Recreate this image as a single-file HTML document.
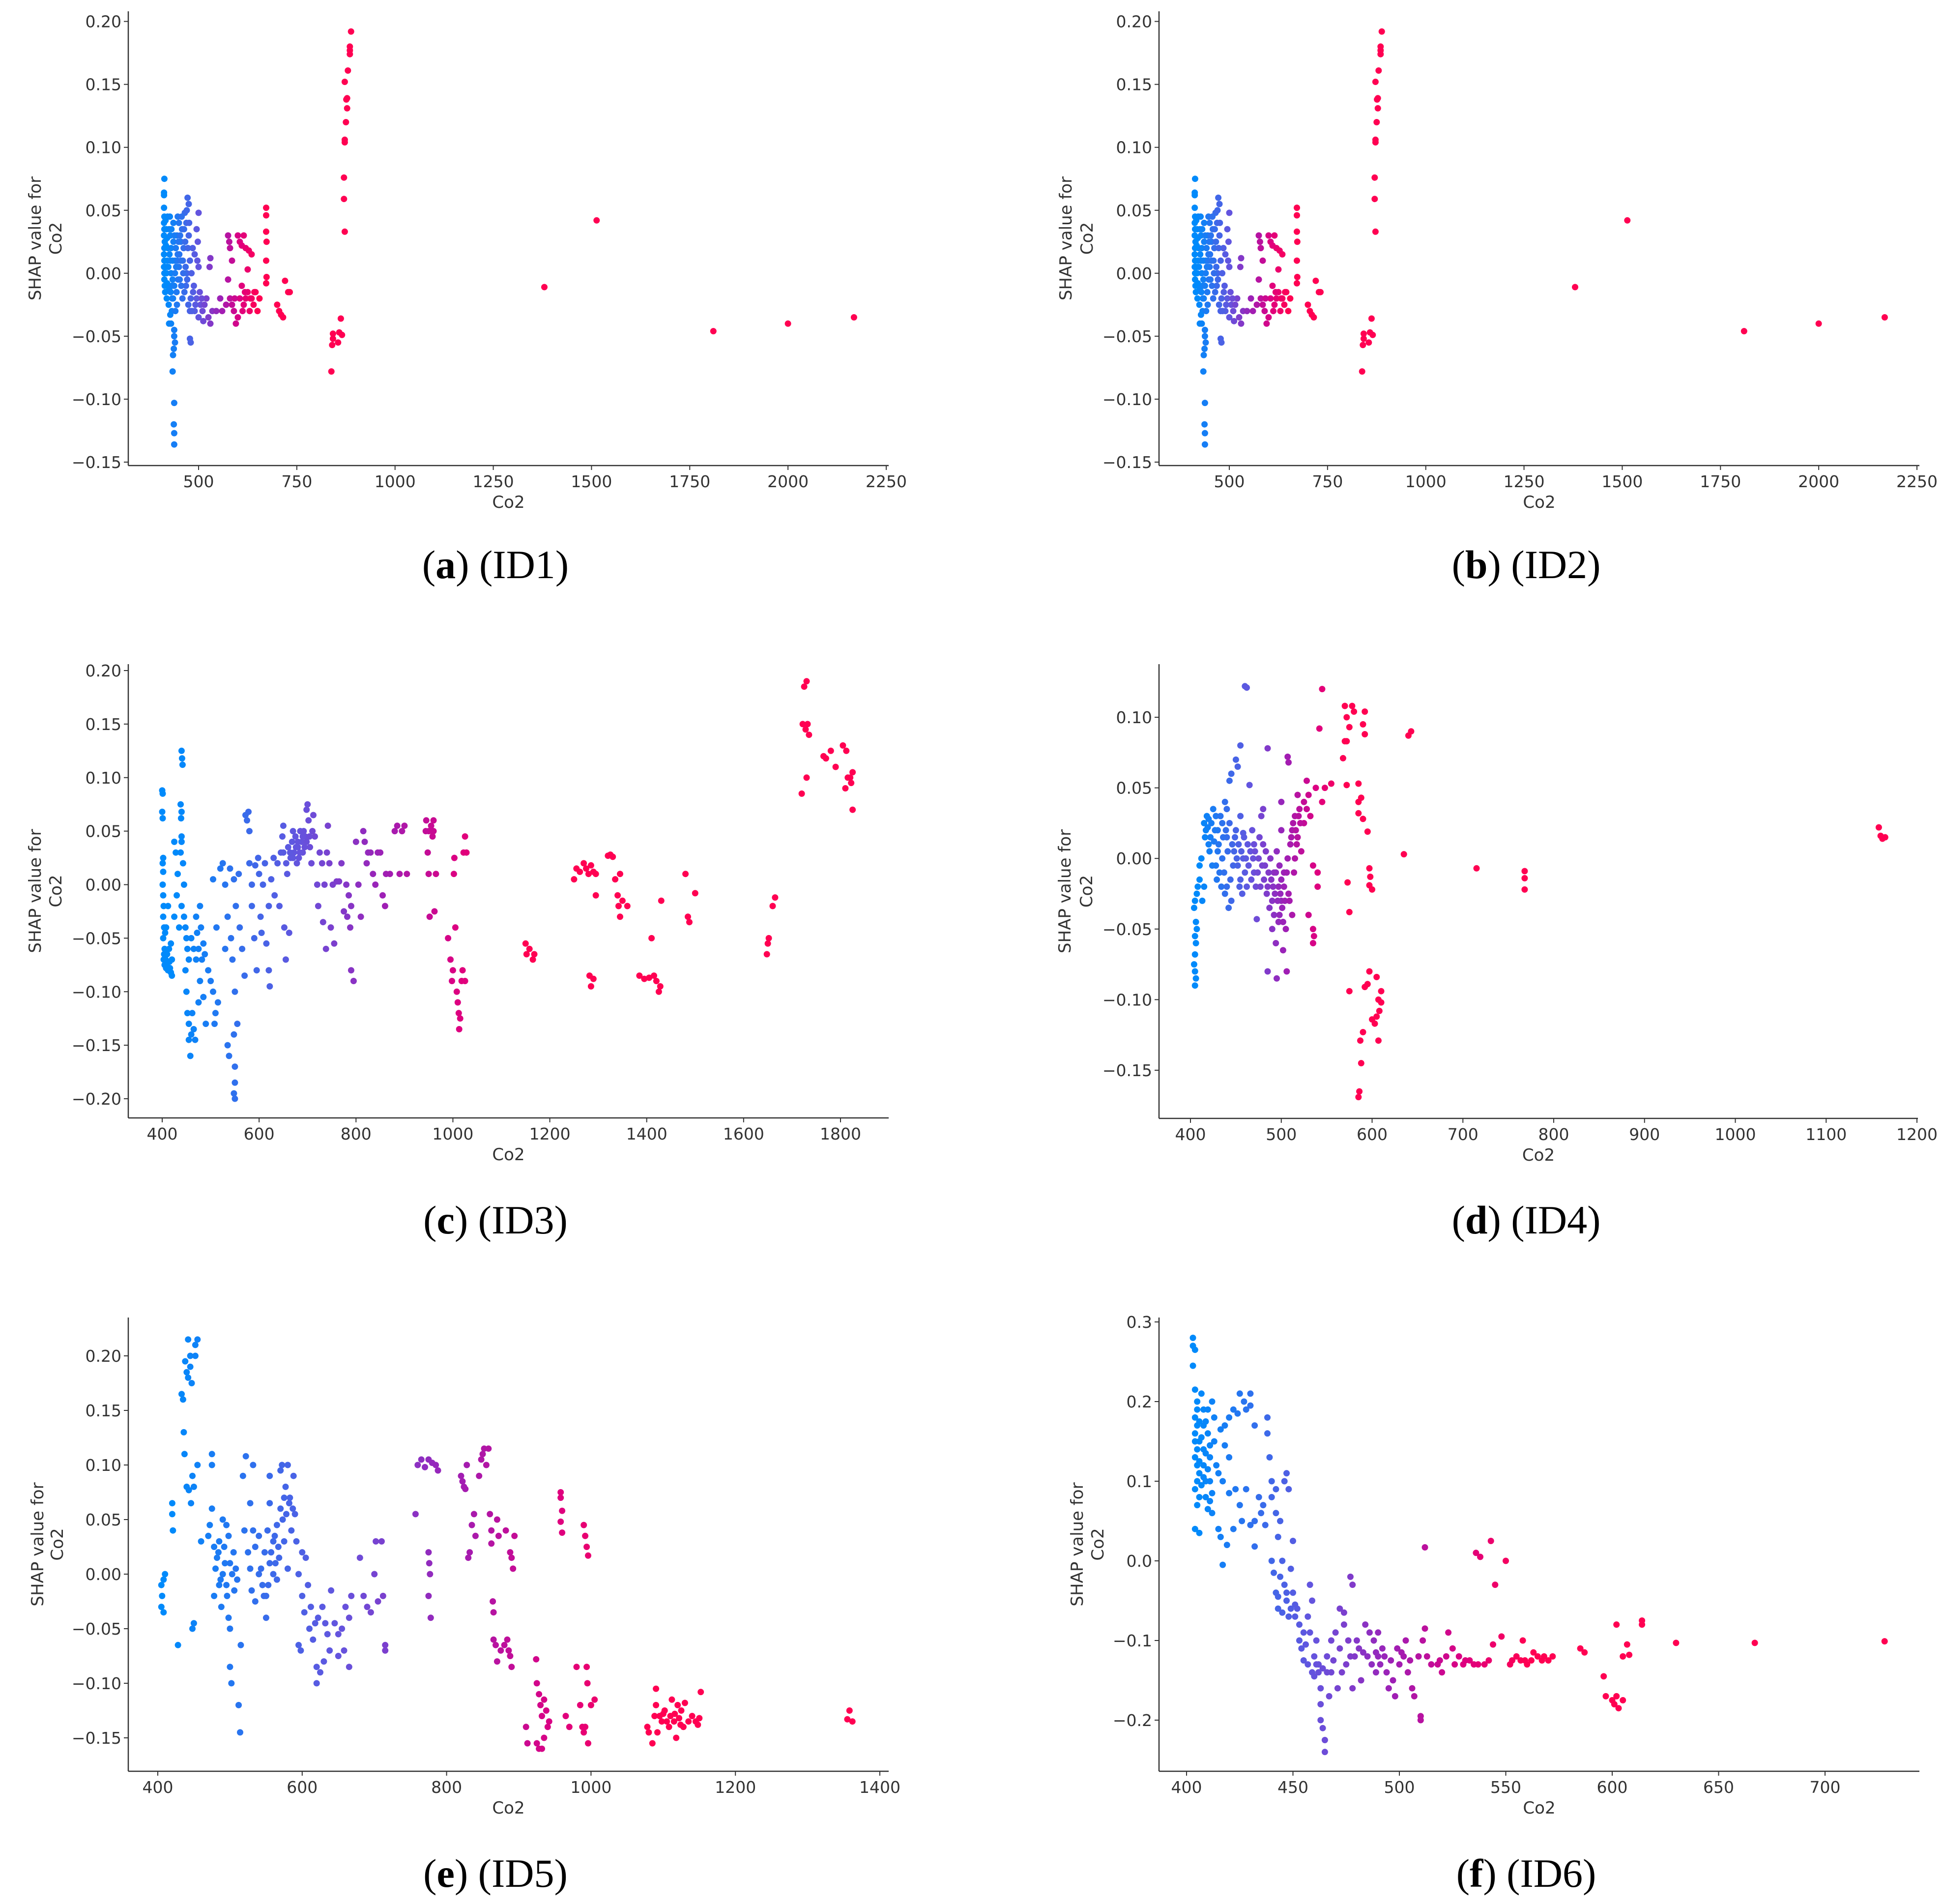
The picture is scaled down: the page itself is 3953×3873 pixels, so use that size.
<!DOCTYPE html>
<html><head><meta charset="utf-8">
<style>
html,body{margin:0;padding:0;background:#fff;}
svg{display:block;}
.tick{font-family:"DejaVu Sans","Liberation Sans",sans-serif;font-size:33px;fill:#333;}
.lab{font-family:"DejaVu Sans","Liberation Sans",sans-serif;font-size:34px;fill:#333;}
.cap{font-family:"Liberation Serif",serif;font-size:82px;fill:#000;}
</style></head>
<body>
<svg id="fig" width="3953" height="3873" viewBox="0 0 3953 3873" xmlns="http://www.w3.org/2000/svg"></svg>
<script>
// ---------- DATA (Co2 value, SHAP value) ----------
const id1Points = [[413,0.075],[412,0.064],[412,0.062],[412,0.052],[413,0.045],[412,0.04],[413,0.035],[412,0.03],[414,0.025],[413,0.02],[412,0.015],[413,0.01],[412,0.005],[413,0],[413,-0.005],[414,-0.01],[415,-0.015],[418,0.035],[420,0.028],[422,0.02],[420,0.01],[418,0],[420,-0.008],[425,-0.012],[425,0.035],[428,0.03],[430,0.02],[428,0.01],[430,0.0],[432,-0.01],[433,-0.02],[432,-0.03],[428,-0.033],[425,-0.04],[430,-0.04],[438,-0.045],[438,-0.05],[440,-0.055],[437,-0.06],[435,-0.065],[434,-0.078],[438,-0.103],[437,-0.12],[438,-0.127],[438,-0.136],[435,-0.02],[438,-0.01],[440,0],[440,0.01],[442,0.02],[445,0.03],[447,0.045],[450,0.04],[447,0.015],[450,0.005],[452,-0.005],[445,-0.025],[455,0.025],[458,0.035],[460,0.01],[462,0.02],[465,0.048],[470,0.05],[472,0.06],[475,0.055],[470,0.0],[468,-0.01],[475,0.03],[478,0.01],[480,-0.02],[482,0.0],[485,0.02],[478,-0.052],[480,-0.055],[478,-0.03],[488,-0.01],[490,0.015],[495,0.035],[500,0.048],[498,0.025],[500,0.005],[495,-0.02],[490,-0.03],[500,-0.035],[505,-0.025],[510,-0.03],[512,-0.038],[520,-0.02],[525,-0.035],[530,-0.04],[530,0.012],[528,0.005],[535,-0.03],[545,-0.03],[555,-0.02],[560,-0.03],[570,-0.025],[575,0.03],[578,0.025],[580,0.02],[585,0.01],[575,-0.005],[580,-0.02],[590,-0.03],[595,-0.04],[600,-0.035],[600,0.03],[605,0.025],[610,0.022],[615,0.03],[620,0.02],[628,0.018],[635,0.015],[605,-0.02],[610,-0.01],[615,-0.025],[620,-0.02],[625,-0.015],[630,-0.03],[635,-0.02],[640,-0.025],[645,-0.015],[650,-0.03],[655,-0.02],[625,0.003],[672,0.052],[672,0.046],[672,0.033],[673,0.025],[672,0.01],[673,-0.003],[672,-0.008],[700,-0.025],[705,-0.03],[710,-0.033],[715,-0.035],[720,-0.006],[728,-0.015],[732,-0.015],[838,-0.078],[840,-0.057],[842,-0.052],[842,-0.048],[855,-0.055],[858,-0.047],[862,-0.036],[865,-0.049],[872,0.033],[870,0.059],[870,0.076],[872,0.104],[872,0.106],[875,0.12],[878,0.131],[876,0.138],[878,0.139],[872,0.152],[880,0.161],[885,0.174],[885,0.177],[885,0.18],[888,0.192],[1380,-0.011],[1513,0.042],[1810,-0.046],[2000,-0.04],[2168,-0.035],
[416,0.042],[417,0.022],[416,0.005],[419,-0.02],[421,0.045],[423,0.005],[424,-0.025],[426,0.015],[427,0.045],[429,-0.015],[431,0.035],[434,0.01],[434,-0.005],[436,0.025],[436,0.04],[439,0.03],[441,-0.03],[443,0.005],[444,-0.015],[446,0.01],[448,-0.005],[449,0.025],[451,0.015],[453,0.03],[455,0.01],[456,-0.01],[457,0.045],[459,-0.02],[461,0.0],[463,0.035],[464,-0.015],[466,0.025],[467,0.005],[469,0.04],[471,-0.005],[473,0.02],[474,-0.025],[476,0.04],[483,-0.03],[486,-0.015],[492,-0.025],[497,0.01],[503,-0.015],[508,-0.02],[515,-0.025],[585,-0.025],[592,-0.02],[612,-0.03],[618,-0.015],[632,-0.02],[642,-0.015]];
const id2Points = id1Points.slice();
const id3Points = [[400,0.088],[401,0.085],[400,0.068],[401,0.062],[402,0.025],[401,0.02],[402,0.012],[401,0.0],[402,-0.01],[403,-0.02],[402,-0.03],[404,-0.04],[402,-0.05],[405,-0.06],[403,-0.07],[405,-0.075],[408,-0.078],[410,-0.065],[412,-0.08],[415,-0.072],[418,-0.082],[420,-0.07],[408,-0.04],[412,-0.02],[418,-0.055],[420,-0.085],[425,0.04],[428,0.03],[425,-0.03],[430,-0.01],[432,0.01],[435,-0.04],[440,0.125],[441,0.118],[442,0.112],[438,0.075],[440,0.068],[439,0.062],[440,0.045],[438,0.03],[440,0.04],[443,0.02],[445,0.0],[440,-0.02],[445,-0.03],[448,-0.04],[450,-0.05],[452,-0.06],[455,-0.07],[448,-0.08],[450,-0.1],[452,-0.12],[455,-0.13],[455,-0.145],[458,-0.16],[460,-0.14],[462,-0.12],[465,-0.135],[468,-0.145],[470,-0.03],[472,-0.045],[475,-0.06],[478,-0.02],[480,-0.04],[482,-0.07],[478,-0.09],[475,-0.11],[485,-0.105],[490,-0.13],[485,-0.055],[488,-0.065],[495,-0.08],[500,-0.09],[505,-0.1],[510,-0.12],[508,-0.13],[505,0.005],[512,-0.04],[515,-0.11],[520,0.015],[525,0.02],[530,-0.06],[530,0.0],[535,-0.03],[535,-0.15],[538,-0.16],[540,0.015],[542,-0.05],[545,-0.07],[548,0.005],[550,-0.1],[548,-0.14],[550,-0.17],[550,-0.185],[548,-0.195],[550,-0.2],[555,-0.13],[552,-0.02],[558,0.01],[560,-0.04],[565,-0.06],[570,-0.085],[572,0.065],[575,0.06],[578,0.068],[580,0.05],[580,0.02],[585,-0.02],[585,0.0],[590,-0.05],[595,-0.08],[592,0.018],[598,0.025],[600,0.01],[603,-0.03],[605,-0.045],[608,0.0],[612,0.02],[615,-0.055],[620,-0.08],[622,-0.095],[620,-0.02],[625,0.005],[630,0.025],[632,-0.01],[638,0.02],[642,-0.02],[645,0.03],[648,0.045],[650,0.055],[652,-0.04],[655,-0.07],[658,0.01],[660,0.035],[662,-0.045],[665,0.025],[668,0.04],[670,0.05],[672,0.03],[675,0.045],[678,0.02],[680,0.035],[685,0.05],[688,0.04],[690,0.03],[692,0.05],[695,0.045],[698,0.07],[700,0.075],[702,0.06],[705,0.035],[708,0.02],[710,0.05],[712,0.065],[715,0.045],[720,0.0],[722,-0.02],[725,0.03],[730,0.02],[732,-0.035],[735,0.0],[738,-0.06],[740,0.03],[742,0.055],[745,0.02],[748,-0.04],[752,0.0],[755,-0.055],[760,0.003],[765,0.003],[770,0.02],[775,-0.025],[780,0.0],[782,-0.03],[785,-0.01],[788,-0.04],[790,-0.08],[795,-0.09],[790,-0.02],[800,0.04],[805,0.0],[810,-0.03],[815,0.05],[818,0.04],[822,0.02],[825,0.03],[830,0.03],[835,0.01],[840,0.0],[845,0.03],[850,0.03],[855,-0.01],[860,-0.02],[862,0.01],[870,0.01],[880,0.05],[885,0.055],[890,0.01],[895,0.05],[900,0.055],[905,0.01],[945,0.06],[948,0.03],[950,0.01],[950,0.05],[955,0.055],[958,0.045],[960,0.05],[962,-0.025],[952,-0.03],[960,0.06],[965,0.01],[990,-0.05],[995,-0.07],[998,-0.09],[1000,-0.08],[1002,0.01],[1003,0.025],[1005,-0.04],[1008,-0.1],[1010,-0.11],[1012,-0.12],[1013,-0.135],[1015,-0.125],[1018,-0.09],[1020,-0.08],[1022,0.03],[1025,0.045],[1028,0.03],[1025,-0.09],[1150,-0.055],[1152,-0.065],[1158,-0.06],[1165,-0.07],[1168,-0.065],[1250,0.005],[1255,0.015],[1262,0.012],[1270,0.02],[1275,0.015],[1280,0.01],[1285,0.018],[1290,0.012],[1295,0.01],[1282,-0.085],[1285,-0.095],[1290,-0.088],[1295,-0.01],[1320,0.027],[1325,0.028],[1330,0.026],[1335,0.005],[1340,-0.01],[1342,-0.02],[1345,-0.03],[1345,0.01],[1350,-0.015],[1360,-0.02],[1385,-0.085],[1395,-0.088],[1405,-0.087],[1410,-0.05],[1415,-0.085],[1420,-0.09],[1425,-0.1],[1428,-0.095],[1430,-0.015],[1480,0.01],[1485,-0.03],[1488,-0.035],[1500,-0.008],[1648,-0.065],[1650,-0.055],[1652,-0.05],[1660,-0.02],[1665,-0.012],[1720,0.085],[1722,0.15],[1725,0.185],[1730,0.19],[1728,0.145],[1732,0.15],[1735,0.14],[1730,0.1],[1765,0.12],[1770,0.118],[1780,0.125],[1790,0.11],[1805,0.13],[1810,0.09],[1812,0.125],[1815,0.1],[1820,0.1],[1822,0.095],[1825,0.07],[1825,0.105],
[404,-0.065],[406,-0.045],[407,-0.07],[409,-0.075],[414,-0.06],[416,-0.078],[460,-0.05],[465,-0.06],[470,-0.07],[680,0.04],[684,0.03],[690,0.045],[694,0.035],[698,0.04],[704,0.045],[682,0.025],[676,0.035],[670,0.025],[664,0.03],[656,0.02],[650,0.03],[944,0.05],[956,0.05]];
const id4Points = [[405,-0.09],[406,-0.085],[405,-0.08],[404,-0.075],[405,-0.068],[406,-0.06],[405,-0.055],[407,-0.05],[406,-0.045],[404,-0.035],[405,-0.03],[407,-0.025],[408,-0.02],[410,-0.015],[410,-0.005],[412,0.0],[413,-0.03],[415,-0.02],[415,0.025],[417,0.02],[418,0.03],[420,0.028],[422,0.015],[420,0.01],[425,0.035],[428,0.03],[430,0.02],[430,0.005],[432,-0.01],[428,-0.005],[435,0.025],[435,0.0],[438,0.04],[440,0.035],[440,0.015],[440,-0.02],[442,-0.035],[445,-0.03],[438,-0.025],[443,0.055],[445,0.06],[450,0.07],[452,0.065],[455,0.08],[455,0.03],[458,0.018],[458,0.0],[460,-0.01],[462,-0.02],[448,0.005],[450,0.02],[452,-0.005],[455,-0.015],[460,0.122],[462,0.121],[465,0.052],[468,0.02],[470,0.01],[470,-0.01],[472,-0.02],[475,0.0],[473,-0.043],[478,0.03],[480,0.035],[480,0.01],[482,-0.005],[485,0.078],[485,-0.08],[485,-0.02],[488,0.0],[490,-0.03],[490,-0.05],[492,-0.01],[494,-0.06],[495,-0.085],[495,0.005],[497,-0.02],[498,-0.04],[500,0.04],[500,-0.015],[500,-0.03],[500,0.02],[502,-0.065],[503,-0.01],[505,-0.05],[506,-0.08],[507,0.072],[508,0.068],[508,-0.025],[510,0.01],[512,-0.04],[512,0.02],[515,0.03],[515,0.0],[518,0.045],[518,0.015],[520,0.035],[522,0.005],[525,0.04],[525,0.025],[528,0.055],[528,0.035],[530,0.045],[530,-0.04],[532,0.03],[535,-0.005],[535,-0.05],[536,-0.055],[535,-0.06],[538,0.05],[540,-0.01],[540,-0.02],[542,0.092],[545,0.12],[545,0.04],[548,0.05],[555,0.053],[570,0.108],[572,0.1],[575,0.093],[578,0.108],[580,0.104],[570,0.083],[572,0.083],[568,0.071],[572,0.052],[573,-0.017],[575,-0.038],[575,-0.094],[585,0.053],[585,0.04],[588,0.043],[585,0.032],[590,0.028],[590,0.095],[592,0.104],[592,0.088],[595,0.019],[597,-0.007],[598,-0.013],[597,-0.019],[600,-0.022],[597,-0.08],[595,-0.089],[592,-0.091],[605,-0.084],[610,-0.094],[607,-0.1],[610,-0.102],[608,-0.108],[605,-0.112],[600,-0.114],[603,-0.117],[590,-0.123],[587,-0.129],[607,-0.129],[588,-0.145],[586,-0.165],[585,-0.169],[635,0.003],[643,0.09],[640,0.087],[715,-0.007],[768,-0.009],[768,-0.014],[768,-0.022],[1158,0.022],[1160,0.016],[1162,0.014],[1165,0.015],
[416,0.015],[419,0.022],[421,0.005],[423,0.025],[424,-0.005],[426,0.012],[427,0.02],[429,-0.015],[431,0.01],[433,0.03],[434,-0.02],[436,0.015],[437,-0.01],[439,0.02],[441,0.005],[443,0.025],[444,-0.015],[446,0.01],[447,-0.005],[449,0.015],[451,0.0],[453,0.01],[454,-0.02],[456,0.005],[457,-0.025],[459,0.015],[461,0.0],[463,0.01],[464,-0.005],[466,0.005],[467,-0.015],[469,0.0],[471,0.005],[474,-0.01],[476,0.015],[477,-0.02],[479,-0.005],[481,-0.015],[483,0.005],[484,-0.025],[486,-0.01],[487,-0.035],[489,-0.015],[491,-0.02],[492,-0.04],[493,-0.025],[494,-0.01],[496,-0.03],[497,-0.045],[498,-0.005],[499,-0.025],[501,-0.035],[502,-0.045],[503,-0.02],[504,-0.03],[506,-0.01],[507,0.0],[509,-0.03],[511,0.015],[513,0.025],[514,-0.01],[516,0.02],[517,0.01],[519,0.03],[521,0.025]];
const id5Points = [[405,-0.01],[406,-0.02],[405,-0.03],[408,-0.035],[410,0.0],[408,-0.005],[420,0.065],[420,0.055],[421,0.04],[428,-0.065],[433,0.165],[435,0.16],[436,0.13],[437,0.11],[438,0.195],[440,0.185],[442,0.18],[442,0.215],[445,0.2],[445,0.19],[447,0.175],[448,0.09],[450,0.08],[452,0.21],[452,0.2],[455,0.215],[448,-0.05],[450,-0.045],[455,0.1],[460,0.03],[440,0.08],[443,0.077],[446,0.065],[470,0.035],[472,0.045],[475,0.06],[475,0.11],[475,0.1],[478,0.025],[478,-0.02],[480,0.005],[482,0.015],[485,-0.01],[485,0.03],[488,-0.03],[490,0.05],[490,0.0],[492,0.025],[495,-0.01],[495,0.045],[498,0.035],[498,-0.04],[500,0.01],[500,-0.05],[500,-0.085],[502,-0.1],[505,0.02],[508,0.005],[510,-0.005],[512,-0.12],[514,-0.145],[515,-0.065],[518,0.09],[520,0.04],[522,0.108],[525,0.02],[528,0.065],[528,0.005],[530,-0.015],[532,0.04],[532,0.1],[535,0.025],[535,-0.025],[540,0.0],[540,0.035],[545,-0.01],[548,0.02],[550,-0.02],[550,-0.04],[552,0.04],[555,0.065],[555,0.09],[555,0.01],[560,0.0],[560,0.03],[562,0.035],[565,0.045],[565,-0.005],[568,0.015],[570,0.06],[570,0.095],[572,0.1],[575,0.07],[575,0.03],[578,0.055],[580,0.1],[580,0.005],[582,0.065],[585,0.04],[588,0.09],[590,0.055],[592,0.03],[595,0.0],[595,-0.065],[598,-0.07],[600,-0.02],[600,0.02],[603,-0.035],[605,0.015],[608,-0.01],[610,-0.05],[612,-0.03],[615,-0.06],[618,-0.045],[620,-0.085],[620,-0.1],[622,-0.04],[625,-0.09],[628,-0.03],[630,-0.08],[632,-0.045],[635,-0.055],[638,-0.07],[640,-0.015],[645,-0.045],[650,-0.055],[650,-0.075],[655,-0.05],[658,-0.07],[660,-0.03],[665,-0.04],[665,-0.085],[668,-0.02],[680,0.015],[685,-0.02],[690,-0.03],[695,-0.035],[700,0.0],[702,0.03],[705,-0.025],[710,0.03],[712,-0.02],[715,-0.065],[715,-0.07],[757,0.055],[760,0.1],[765,0.105],[770,0.098],[775,0.105],[780,0.102],[785,0.1],[788,0.095],[775,0.02],[776,0.01],[777,0.0],[775,-0.02],[778,-0.04],[820,0.09],[822,0.085],[824,0.08],[826,0.078],[828,0.1],[830,0.015],[832,0.02],[835,0.045],[838,0.055],[840,0.035],[845,0.09],[848,0.105],[850,0.11],[852,0.115],[855,0.1],[858,0.115],[860,0.055],[862,0.04],[862,0.028],[864,-0.025],[865,-0.035],[865,-0.06],[868,-0.065],[870,0.05],[870,-0.08],[872,0.035],[875,-0.07],[880,-0.065],[882,0.04],[884,-0.06],[886,-0.07],[888,0.02],[888,-0.075],[890,0.015],[890,-0.085],[892,0.005],[894,0.035],[924,-0.078],[925,-0.1],[928,-0.11],[930,-0.12],[932,-0.13],[935,-0.115],[938,-0.125],[910,-0.14],[912,-0.155],[925,-0.155],[928,-0.16],[932,-0.16],[935,-0.15],[940,-0.14],[942,-0.135],[958,0.075],[958,0.07],[960,0.058],[958,0.048],[960,0.038],[965,-0.13],[970,-0.14],[980,-0.085],[985,-0.12],[988,-0.14],[990,-0.145],[992,-0.14],[994,-0.085],[995,-0.1],[996,-0.155],[990,0.045],[992,0.035],[994,0.025],[996,0.017],[1000,-0.12],[1005,-0.115],[1078,-0.14],[1080,-0.145],[1085,-0.155],[1088,-0.13],[1090,-0.12],[1090,-0.105],[1092,-0.145],[1095,-0.13],[1100,-0.128],[1105,-0.135],[1108,-0.14],[1110,-0.13],[1112,-0.115],[1115,-0.135],[1118,-0.15],[1120,-0.12],[1122,-0.132],[1125,-0.125],[1128,-0.14],[1130,-0.118],[1135,-0.135],[1140,-0.13],[1145,-0.135],[1148,-0.138],[1150,-0.132],[1152,-0.108],[1355,-0.133],[1358,-0.125],[1362,-0.135],
[484,0.02],[487,-0.005],[493,0.01],[496,-0.02],[503,0.0],[506,-0.015],[543,0.005],[547,-0.02],[553,-0.01],[557,0.02],[563,0.01],[567,0.025],[573,0.05],[577,0.08],[583,0.07],[587,0.06],[1098,-0.135],[1102,-0.125],[1116,-0.128],[1124,-0.138]];
const id6Points = [[403,0.28],[403,0.27],[404,0.265],[403,0.245],[404,0.215],[405,0.2],[404,0.18],[405,0.17],[404,0.16],[406,0.15],[405,0.14],[404,0.13],[405,0.12],[406,0.11],[405,0.1],[404,0.09],[406,0.08],[405,0.07],[404,0.04],[406,0.035],[407,0.21],[408,0.19],[408,0.17],[408,0.14],[408,0.12],[409,0.1],[409,0.08],[410,0.065],[410,0.19],[410,0.16],[411,0.13],[411,0.1],[412,0.085],[412,0.06],[413,0.18],[413,0.15],[414,0.12],[415,0.11],[415,0.04],[416,0.165],[416,0.03],[417,0.1],[418,0.17],[418,0.145],[419,0.02],[417,-0.005],[420,0.18],[420,0.13],[420,0.085],[422,0.19],[422,0.04],[423,0.09],[424,0.185],[425,0.21],[425,0.07],[426,0.05],[427,0.2],[428,0.19],[428,0.09],[430,0.21],[430,0.195],[430,0.045],[432,0.17],[432,0.05],[432,0.018],[434,0.08],[435,0.06],[436,0.07],[437,0.045],[438,0.18],[438,0.16],[439,0.13],[440,0.1],[440,0.08],[442,0.09],[442,0.06],[443,0.03],[444,0.05],[446,0.1],[447,0.11],[448,0.09],[440,0.0],[441,-0.015],[442,-0.04],[443,-0.06],[444,-0.02],[445,0.0],[446,-0.03],[447,-0.05],[448,-0.07],[449,-0.01],[450,0.025],[450,-0.04],[451,-0.055],[452,-0.06],[453,-0.08],[453,-0.1],[454,-0.11],[455,-0.09],[455,-0.125],[457,-0.07],[458,-0.03],[458,-0.09],[459,-0.05],[459,-0.14],[460,-0.12],[461,-0.1],[462,-0.14],[462,-0.13],[463,-0.16],[463,-0.18],[463,-0.2],[464,-0.21],[465,-0.225],[465,-0.24],[466,-0.12],[467,-0.17],[468,-0.1],[468,-0.14],[470,-0.09],[471,-0.16],[472,-0.06],[472,-0.11],[474,-0.065],[474,-0.08],[475,-0.13],[476,-0.1],[477,-0.02],[478,-0.03],[478,-0.16],[479,-0.12],[480,-0.1],[481,-0.11],[482,-0.15],[484,-0.08],[485,-0.12],[486,-0.09],[487,-0.13],[488,-0.1],[489,-0.14],[490,-0.12],[490,-0.09],[492,-0.11],[494,-0.14],[495,-0.16],[497,-0.15],[498,-0.17],[499,-0.11],[500,-0.13],[502,-0.12],[503,-0.1],[504,-0.14],[506,-0.16],[507,-0.17],[510,-0.195],[510,-0.2],[511,-0.1],[512,-0.085],[512,0.017],[513,-0.12],[515,-0.13],[518,-0.13],[520,-0.14],[522,-0.12],[523,-0.09],[525,-0.11],[526,-0.13],[528,-0.12],[530,-0.13],[533,-0.125],[536,0.01],[537,-0.13],[538,0.005],[540,-0.13],[542,-0.125],[543,0.025],[544,-0.105],[545,-0.03],[548,-0.095],[550,0.0],[552,-0.13],[555,-0.12],[557,-0.125],[558,-0.1],[560,-0.13],[562,-0.125],[565,-0.12],[568,-0.12],[570,-0.125],[572,-0.12],[585,-0.11],[587,-0.115],[596,-0.145],[597,-0.17],[600,-0.175],[601,-0.18],[602,-0.17],[603,-0.185],[605,-0.175],[602,-0.08],[605,-0.12],[607,-0.105],[608,-0.118],[614,-0.075],[614,-0.08],[630,-0.103],[667,-0.103],[728,-0.101],
[404,0.15],[405,0.19],[406,0.175],[406,0.125],[407,0.095],[407,0.155],[408,0.105],[409,0.135],[409,0.175],[410,0.115],[411,0.075],[411,0.145],[412,0.2],[443,-0.045],[445,-0.065],[447,-0.04],[449,-0.06],[451,-0.07],[456,-0.105],[457,-0.13],[460,-0.145],[461,-0.13],[464,-0.135],[466,-0.14],[469,-0.125],[473,-0.14],[477,-0.12],[483,-0.115],[489,-0.115],[491,-0.13],[493,-0.12],[496,-0.125],[501,-0.115],[505,-0.125],[509,-0.12],[519,-0.125],[531,-0.125],[535,-0.13],[553,-0.125],[559,-0.125],[563,-0.115],[567,-0.125]];

// tick labels
const xTicksAB = [500,750,1000,1250,1500,1750,2000,2250];
const yTicksAB = [0.20,0.15,0.10,0.05,0.00,-0.05,-0.10,-0.15];
const xTicksC = [400,600,800,1000,1200,1400,1600,1800];
const yTicksC = [0.20,0.15,0.10,0.05,0.00,-0.05,-0.10,-0.15,-0.20];
const xTicksD = [400,500,600,700,800,900,1000,1100,1200];
const yTicksD = [0.10,0.05,0.00,-0.05,-0.10,-0.15];
const xTicksE = [400,600,800,1000,1200,1400];
const yTicksE = [0.20,0.15,0.10,0.05,0.00,-0.05,-0.10,-0.15];
const xTicksF = [400,450,500,550,600,650,700];
const yTicksF = [0.3,0.2,0.1,0.0,-0.1,-0.2];
const captions = [["a","(ID1)"],["b","(ID2)"],["c","(ID3)"],["d","(ID4)"],["e","(ID5)"],["f","(ID6)"]];

// ---------- LAYOUT ----------
const NS = "http://www.w3.org/2000/svg";
const svg = document.getElementById('fig');
function mk(tag, attrs, parent){const e=document.createElementNS(NS,tag);for(const k in attrs)e.setAttribute(k,attrs[k]);(parent||svg).appendChild(e);return e;}
const stops=[[0,[0,138,251]],[0.35,[100,84,222]],[0.6,[160,30,180]],[0.8,[220,0,130]],[1,[255,0,82]]];
function cmap(t){t=Math.max(0,Math.min(1,t));for(let i=1;i<stops.length;i++){if(t<=stops[i][0]){const a=stops[i-1],b=stops[i];const f=(t-a[0])/(b[0]-a[0]);const c=a[1].map((v,j)=>Math.round(v+(b[1][j]-v)*f));return `rgb(${c[0]},${c[1]},${c[2]})`;}}return 'rgb(255,0,82)';}

const panels=[
 {id:'id1',pts:id1Points,xt:xTicksAB,yt:yTicksAB,fmt:2,L:261,R:1808,T:23,B:947,x0:[500,404],x1:[2250,1803],y0:[0.20,43.6],y1:[-0.15,940],ylx:[71,113],cx:1008,cy:1148,cv:[420,650]},
 {id:'id2',pts:id2Points,xt:xTicksAB,yt:yTicksAB,fmt:2,L:2358,R:3905,T:23,B:947,x0:[500,2501],x1:[2250,3900],y0:[0.20,43.6],y1:[-0.15,940],ylx:[2168,2211],cx:3105,cy:1148,cv:[420,650]},
 {id:'id3',pts:id3Points,xt:xTicksC,yt:yTicksC,fmt:2,L:261,R:1808,T:1351,B:2274,x0:[400,330],x1:[1800,1710],y0:[0.20,1364],y1:[-0.20,2235],ylx:[71,113],cx:1008,cy:2481,cv:[430,1150]},
 {id:'id4',pts:id4Points,xt:xTicksD,yt:yTicksD,fmt:2,L:2358,R:3902,T:1351,B:2275,x0:[400,2422],x1:[1200,3900],y0:[0.10,1459],y1:[-0.15,2177],ylx:[2166,2210],cx:3105,cy:2481,cv:[410,570]},
 {id:'id5',pts:id5Points,xt:xTicksE,yt:yTicksE,fmt:2,L:261,R:1808,T:2680,B:3603,x0:[400,321],x1:[1400,1790],y0:[0.20,2758],y1:[-0.15,3535],ylx:[76,116],cx:1008,cy:3810,cv:[420,1080]},
 {id:'id6',pts:id6Points,xt:xTicksF,yt:yTicksF,fmt:1,L:2358,R:3905,T:2680,B:3603,x0:[400,2414],x1:[700,3713],y0:[0.3,2689],y1:[-0.2,3499],ylx:[2191,2233],cx:3105,cy:3810,cv:[405,560]}
];
function fmtNum(v,d){const s=Math.abs(v).toFixed(d);return (v<0?'\u2212':'')+s;}

panels.forEach((p,pi)=>{
  const g=mk('g',{});
  
  
  const sx=v=>p.x0[1]+(v-p.x0[0])*(p.x1[1]-p.x0[1])/(p.x1[0]-p.x0[0]);
  const sy=v=>p.y0[1]+(v-p.y0[0])*(p.y1[1]-p.y0[1])/(p.y1[0]-p.y0[0]);
  const pg=mk('g',{},g);
  
  
  p.pts.forEach(d=>{
    const c=mk('circle',{cx:sx(d[0]).toFixed(1),cy:sy(d[1]).toFixed(1),r:6.5,fill:cmap((d[0]-p.cv[0])/(p.cv[1]-p.cv[0]))},pg);
    
    
  });
  const ys=mk('line',{x1:p.L,y1:p.T,x2:p.L,y2:p.B,stroke:'#333',"stroke-width":2.5},g);
  
  
  const xs=mk('line',{x1:p.L,y1:p.B,x2:p.R,y2:p.B,stroke:'#333',"stroke-width":2.5},g);
  
  
  p.yt.forEach(v=>{
    const y=sy(v);
    mk('line',{x1:p.L-9,y1:y,x2:p.L,y2:y,stroke:'#333',"stroke-width":2},g);
    const t=mk('text',{x:p.L-14,y:y+12,'text-anchor':'end',class:'tick'},g);
    t.textContent=fmtNum(v,p.fmt);
    
    
  });
  p.xt.forEach(v=>{
    const x=sx(v);
    mk('line',{x1:x,y1:p.B,x2:x,y2:p.B+9,stroke:'#333',"stroke-width":2},g);
    const t=mk('text',{x:x,y:p.B+44,'text-anchor':'middle',class:'tick'},g);
    t.textContent=String(v);
    
    
  });
  const xl=mk('text',{x:(p.L+p.R)/2,y:p.B+86,'text-anchor':'middle',class:'lab'},g);
  xl.textContent='Co2';
  
  
  const cyM=(p.T+p.B)/2;
  const yl1=mk('text',{x:p.ylx[0]+12,y:cyM,'text-anchor':'middle',class:'lab',transform:`rotate(-90 ${p.ylx[0]+12} ${cyM})`},g);
  yl1.textContent='SHAP value for';
  
  
  const yl2=mk('text',{x:p.ylx[1]+12,y:cyM,'text-anchor':'middle',class:'lab',transform:`rotate(-90 ${p.ylx[1]+12} ${cyM})`},g);
  yl2.textContent='Co2';
  
  
  const cap=mk('text',{x:p.cx,y:p.cy+28,'text-anchor':'middle',class:'cap'},g);
  
  
  const t1=mk('tspan',{},cap);t1.textContent='(';
  const t2=mk('tspan',{'font-weight':'bold'},cap);t2.textContent=captions[pi][0];
  const t3=mk('tspan',{},cap);t3.textContent=') '+captions[pi][1];
});
</script>
</body></html>
